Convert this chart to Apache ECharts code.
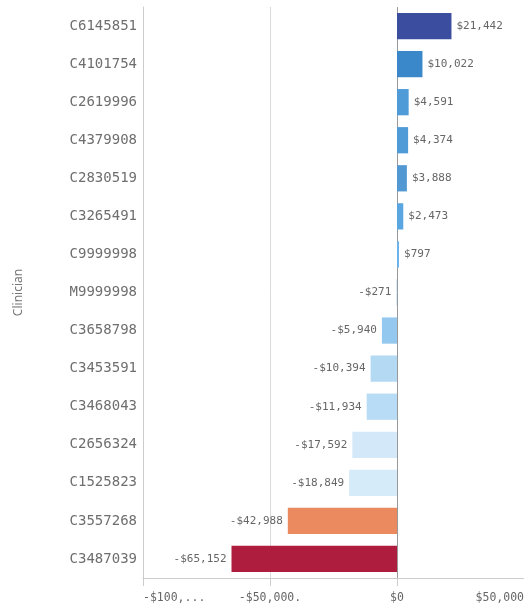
<!DOCTYPE html>
<html>
<head>
<meta charset="utf-8">
<script src="https://cdn.jsdelivr.net/npm/echarts@6/dist/echarts.min.js"></script>
<style>
html,body{margin:0;padding:0;background:#fff;}
#main{width:524px;height:610px;}
</style>
</head>
<body>
<div id="main"></div>
<script>
var categories = ['C6145851','C4101754','C2619996','C4379908','C2830519','C3265491','C9999998','M9999998','C3658798','C3453591','C3468043','C2656324','C1525823','C3557268','C3487039'];
var values = [21442, 10022, 4591, 4374, 3888, 2473, 797, -271, -5940, -10394, -11934, -17592, -18849, -42988, -65152];
var barColors = ['#3b4d9f','#3a87c9','#4f9bd8','#4f9bd8','#5299d3','#5aa6e0','#6cb4ea','#c8e2f5','#95c8ee','#b3d9f3','#b8dcf5','#d3e9f9','#d6ebfa','#eb8a5e','#ae1c3e'];
var tickValues = [-100000, -50000, 0, 50000];
var tickLabels = ['-$100,...', '-$50,000.', '$0', '$50,000'];
var axisTitle = 'Clinician';

function money(v){
  var s = Math.abs(v).toString().replace(/\B(?=(\d{3})+(?!\d))/g, ',');
  return (v < 0 ? '-$' : '$') + s;
}

var chart = echarts.init(document.getElementById('main'), null, {renderer:'canvas'});
var data = values.map(function(v, i){
  return {
    value: v,
    itemStyle: {color: barColors[i]},
    label: {position: v < 0 ? 'left' : 'right'}
  };
});
chart.setOption({
  animation: false,
  grid: {left: 143, right: 0, top: 7, bottom: 32, containLabel: false, outerBoundsMode: 'none'},
  xAxis: {
    type: 'value',
    min: -100000, max: 50000, interval: 50000,
    axisLine: {show: true, lineStyle: {color: '#cccccc'}},
    axisTick: {show: true, length: 8, lineStyle: {color: '#cccccc'}},
    splitLine: {show: true, lineStyle: {color: ['#d9d9d9','#d9d9d9','#999999','rgba(0,0,0,0)'], width: 1}},
    axisLabel: {
      margin: 14,
      fontFamily: 'DejaVu Sans Mono',
      fontSize: 11.5,
      color: '#666666',
      alignMinLabel: 'left',
      alignMaxLabel: 'right',
      formatter: function(v){
        var i = tickValues.indexOf(v);
        return i >= 0 ? tickLabels[i] : '';
      }
    }
  },
  yAxis: {
    type: 'category',
    data: categories,
    inverse: true,
    name: axisTitle,
    nameLocation: 'middle',
    nameGap: 118,
    nameTextStyle: {fontFamily: 'Noto Sans', fontSize: 12, color: '#777777'},
    axisLine: {show: true, onZero: false, lineStyle: {color: '#cccccc'}},
    axisTick: {show: false},
    axisLabel: {
      margin: 6,
      fontFamily: 'DejaVu Sans Mono',
      fontSize: 14,
      color: '#6e6e6e'
    }
  },
  series: [{
    type: 'bar',
    data: data,
    barCategoryGap: '31%',
    label: {
      show: true,
      distance: 5,
      fontFamily: 'DejaVu Sans Mono',
      fontSize: 11,
      color: '#666666',
      formatter: function(p){ return money(p.value); }
    }
  }]
});
</script>
</body>
</html>
